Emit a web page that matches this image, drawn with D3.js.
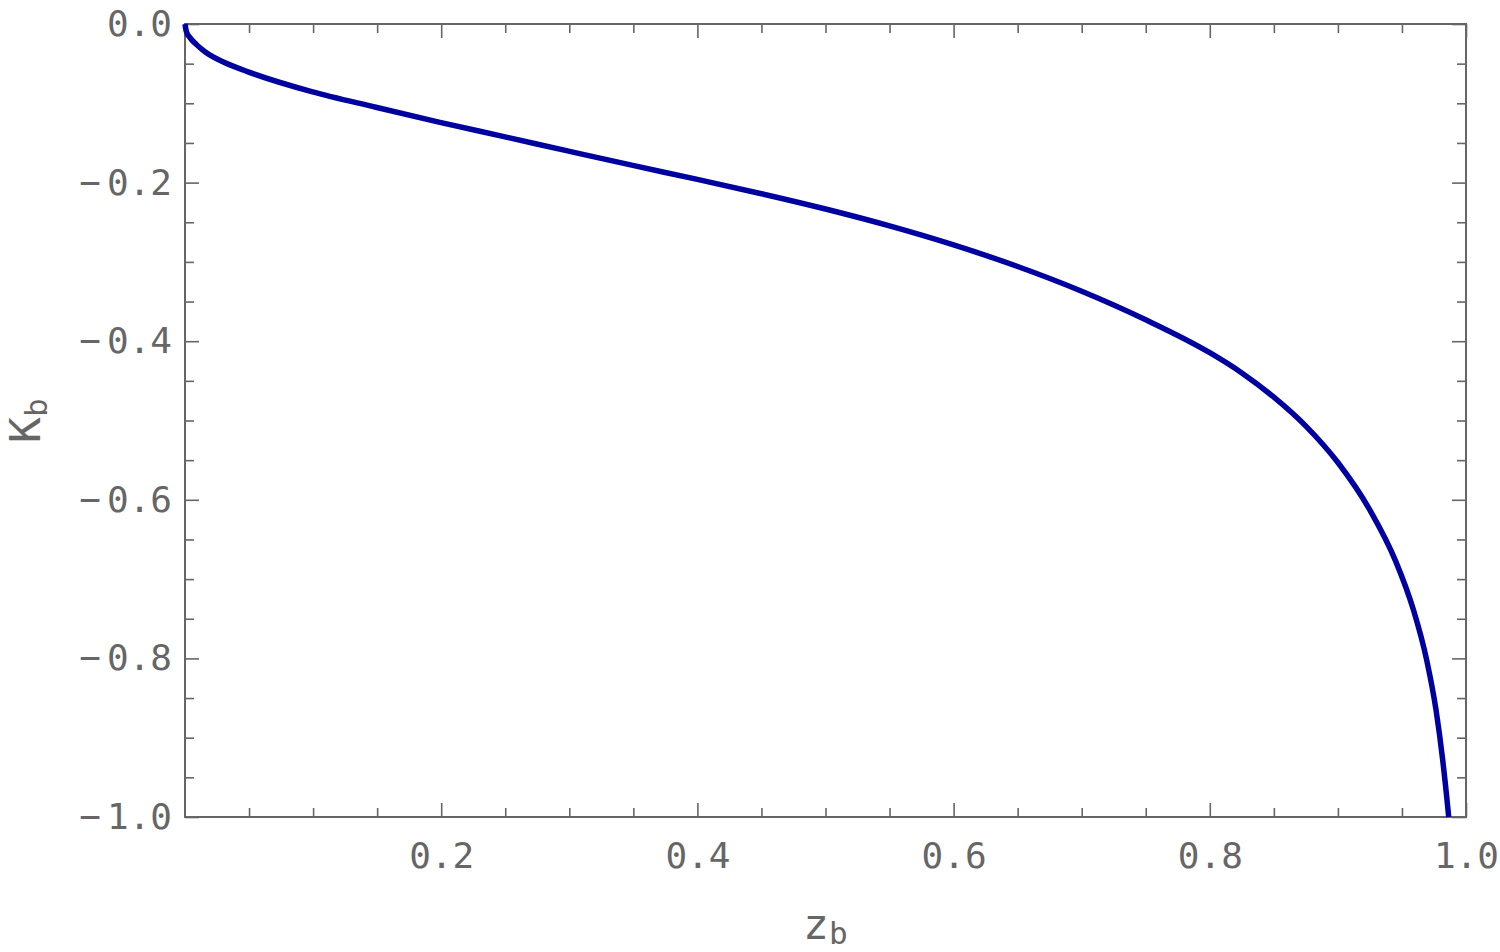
<!DOCTYPE html>
<meta charset="utf-8">
<head>
<style>
  body { margin: 0; background: #fff; }
  .axis text { font-family: "DejaVu Sans Mono", monospace; font-size: 36px; fill: #666; }
  .axis line { stroke: #666; stroke-width: 1.6px; }
  .axis .domain { display: none; }
  .title { font-family: "DejaVu Sans Mono", monospace; font-size: 43px; fill: #666; }
</style>
</head>
<body>
<script src="https://d3js.org/d3.v7.min.js"></script>
<script>

// curve K_b(z_b)
var zb = [0, 0.001, 0.004, 0.009, 0.0156, 0.03, 0.0487, 0.0989, 0.149, 0.199, 0.249,
          0.2986, 0.3487, 0.40, 0.45, 0.50, 0.55, 0.60, 0.65, 0.70, 0.75, 0.80, 0.825,
          0.85, 0.875, 0.90, 0.925, 0.945, 0.959, 0.9693, 0.9766, 0.9818, 0.9862, 0.9865];
var Kb = [0, -0.009, -0.0175, -0.026, -0.035, -0.048, -0.060, -0.0853, -0.105, -0.124, -0.142,
          -0.160, -0.178, -0.196, -0.214, -0.2333, -0.2546, -0.2786, -0.3058, -0.337, -0.373, -0.4145, -0.440,
          -0.4705, -0.507, -0.553, -0.613, -0.677, -0.739, -0.802, -0.865, -0.928, -0.995, -1.0];

var xTicks = [0.2, 0.4, 0.6, 0.8, 1.0];
var yTicks = [0, -0.2, -0.4, -0.6, -0.8, -1.0];
var xMinor = [0.05, 0.1, 0.15, 0.25, 0.3, 0.35, 0.45, 0.5, 0.55, 0.65, 0.7, 0.75, 0.85, 0.9, 0.95];
var yMinor = [-0.05, -0.1, -0.15, -0.25, -0.3, -0.35, -0.45, -0.5, -0.55, -0.65, -0.7, -0.75, -0.85, -0.9, -0.95];

var margin = {top: 24, right: 34, bottom: 135, left: 185},
    width = 1500 - margin.left - margin.right,
    height = 952 - margin.top - margin.bottom;

var x = d3.scaleLinear().domain([0, 1]).range([0, width]);
var y = d3.scaleLinear().domain([-1, 0]).range([height, 0]);

var svg = d3.select("body").append("svg")
    .attr("width", 1500)
    .attr("height", 952)
  .append("g")
    .attr("transform", "translate(" + margin.left + "," + margin.top + ")");

var fmt = d3.format(".1f");

// bottom: major with labels, then minor
svg.append("g")
    .attr("class", "axis")
    .attr("transform", "translate(0," + height + ")")
    .call(d3.axisBottom(x).tickValues(xTicks).tickSize(-14).tickPadding(25).tickFormat(fmt));
svg.append("g")
    .attr("class", "axis")
    .attr("transform", "translate(0," + height + ")")
    .call(d3.axisBottom(x).tickValues(xMinor).tickSize(-9).tickFormat(""));

// top
svg.append("g")
    .attr("class", "axis")
    .call(d3.axisTop(x).tickValues(xTicks).tickSize(-14).tickFormat(""));
svg.append("g")
    .attr("class", "axis")
    .call(d3.axisTop(x).tickValues(xMinor).tickSize(-9).tickFormat(""));

// left
var yl = svg.append("g")
    .attr("class", "axis")
    .call(d3.axisLeft(y).tickValues(yTicks).tickSize(-14).tickPadding(13).tickFormat(fmt));
yl.selectAll("text").each(function(d) {
  if (d < 0) {
    var t = d3.select(this).text(null);
    t.append("tspan").text("\u2212");
    t.append("tspan").attr("dx", 6).text(fmt(-d));
  }
});
svg.append("g")
    .attr("class", "axis")
    .call(d3.axisLeft(y).tickValues(yMinor).tickSize(-9).tickFormat(""));

// right
svg.append("g")
    .attr("class", "axis")
    .attr("transform", "translate(" + width + ",0)")
    .call(d3.axisRight(y).tickValues(yTicks).tickSize(-14).tickFormat(""));
svg.append("g")
    .attr("class", "axis")
    .attr("transform", "translate(" + width + ",0)")
    .call(d3.axisRight(y).tickValues(yMinor).tickSize(-9).tickFormat(""));

// frame
svg.append("rect")
    .attr("width", width)
    .attr("height", height)
    .style("fill", "none")
    .style("stroke", "#666")
    .style("stroke-width", 2);

// the curve
var pts = zb.map(function(d, i) { return [d, Kb[i]]; });
svg.append("path")
    .datum(pts)
    .attr("d", d3.line()
        .x(function(d) { return x(d[0]); })
        .y(function(d) { return y(d[1]); })
        .curve(d3.curveMonotoneX))
    .style("fill", "none")
    .style("stroke", "#0000a0")
    .style("stroke-width", 5.5)
    .style("stroke-linejoin", "round");

// axis titles
var zt = svg.append("text")
    .attr("class", "title")
    .attr("x", 803 - margin.left)
    .attr("y", 939 - margin.top);
zt.append("tspan").text("z");
zt.append("tspan").attr("dy", 5).style("font-size", "31px").text("b");

var kt = svg.append("text")
    .attr("class", "title")
    .attr("transform", "translate(" + (40 - margin.left) + "," + (443 - margin.top) + ") rotate(-90)");
kt.append("tspan").text("K");
kt.append("tspan").attr("dy", 7).style("font-size", "31px").text("b");

</script>
</body>
